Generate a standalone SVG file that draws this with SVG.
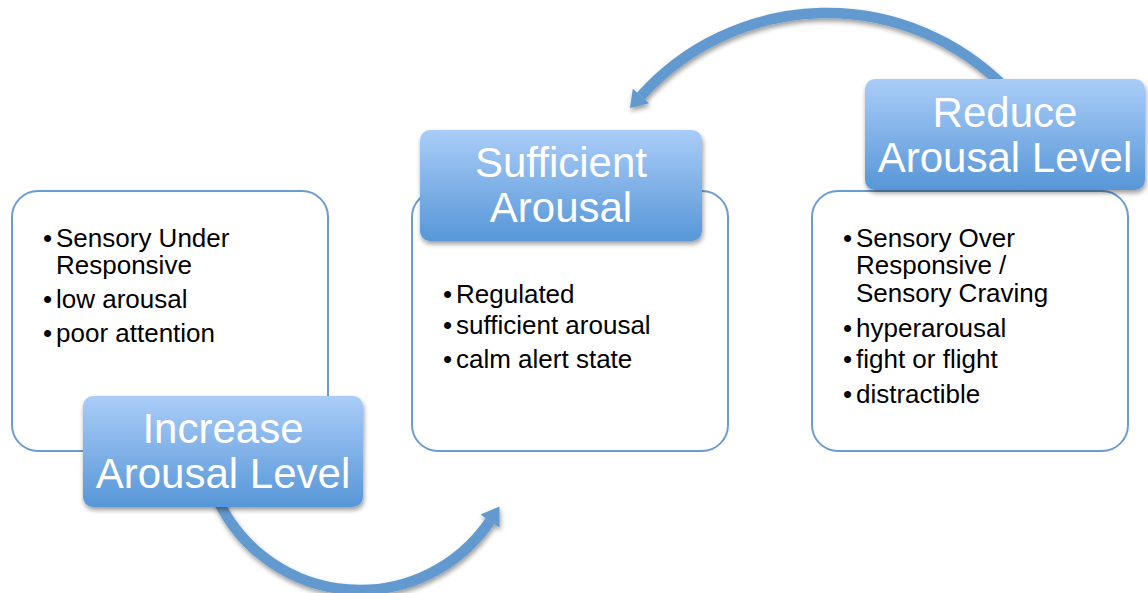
<svg xmlns="http://www.w3.org/2000/svg" width="1148" height="593" viewBox="0 0 1148 593">
  <defs>
    <linearGradient id="labelFill" x1="0" y1="0" x2="0" y2="1">
      <stop offset="0" stop-color="#aacdf8"/>
      <stop offset="1" stop-color="#5796d7"/>
    </linearGradient>
    <filter id="shadow" x="-10%" y="-10%" width="125%" height="130%">
      <feGaussianBlur in="SourceAlpha" stdDeviation="2.5"/>
      <feOffset dx="1" dy="3" result="b"/>
      <feComponentTransfer><feFuncA type="linear" slope="0.4"/></feComponentTransfer>
      <feMerge><feMergeNode/><feMergeNode in="SourceGraphic"/></feMerge>
    </filter>
    <style>
      .box { fill: #ffffff; stroke: #6b9bd1; stroke-width: 2; }
      .label { fill: url(#labelFill); filter: url(#shadow); }
      .title { font-family: "Liberation Sans", Arial, sans-serif; font-size: 42px; fill: #ffffff; text-anchor: middle; }
      .item { font-family: "Liberation Sans", Arial, sans-serif; font-size: 26px; fill: #000000; }
      .arc { fill: none; stroke: #6299cf; stroke-width: 10.5; }
      .head { fill: #6299cf; }
    </style>
  </defs>

  <!-- curved arrows between the states -->
  <g id="connectors" filter="url(#shadow)">
    <path class="arc" d="M218 500 A157 157 0 0 0 490 521"/>
    <polygon class="head" points="499.5,506.5 480.5,514.5 499.5,527.5"/>
    <path class="arc" d="M1005 87.5 A250 250 0 0 0 641 96"/>
    <polygon class="head" points="630,108 632.8,88.7 649.2,103.3"/>
  </g>

  <!-- under-responsive state -->
  <g id="increase">
    <rect class="box" x="12" y="191" width="316" height="260" rx="26"/>
    <text class="item" x="43" y="247">•<tspan x="56">Sensory Under</tspan><tspan x="56" y="274">Responsive</tspan></text>
    <text class="item" x="43" y="308">•<tspan x="56">low arousal</tspan></text>
    <text class="item" x="43" y="342">•<tspan x="56">poor attention</tspan></text>
    <rect class="label" x="83" y="396" width="280" height="111" rx="10"/>
    <text class="title" x="223" y="443">Increase<tspan x="223" y="488">Arousal Level</tspan></text>
  </g>

  <!-- regulated state -->
  <g id="sufficient">
    <rect class="box" x="412" y="191" width="316" height="260" rx="26"/>
    <text class="item" x="443" y="303">•<tspan x="456">Regulated</tspan></text>
    <text class="item" x="443" y="334">•<tspan x="456">sufficient arousal</tspan></text>
    <text class="item" x="443" y="368">•<tspan x="456">calm alert state</tspan></text>
    <rect class="label" x="420" y="130" width="282" height="111" rx="10"/>
    <text class="title" x="561" y="177">Sufficient<tspan x="561" y="222">Arousal</tspan></text>
  </g>

  <!-- over-responsive state -->
  <g id="reduce">
    <rect class="box" x="812" y="191" width="316" height="260" rx="26"/>
    <text class="item" x="843" y="247">•<tspan x="856">Sensory Over</tspan><tspan x="856" y="274">Responsive /</tspan><tspan x="856" y="302">Sensory Craving</tspan></text>
    <text class="item" x="843" y="337">•<tspan x="856">hyperarousal</tspan></text>
    <text class="item" x="843" y="368">•<tspan x="856">fight or flight</tspan></text>
    <text class="item" x="843" y="403">•<tspan x="856">distractible</tspan></text>
    <rect class="label" x="865" y="79" width="280" height="111" rx="10"/>
    <text class="title" x="1005" y="127">Reduce<tspan x="1005" y="172">Arousal Level</tspan></text>
  </g>
</svg>
